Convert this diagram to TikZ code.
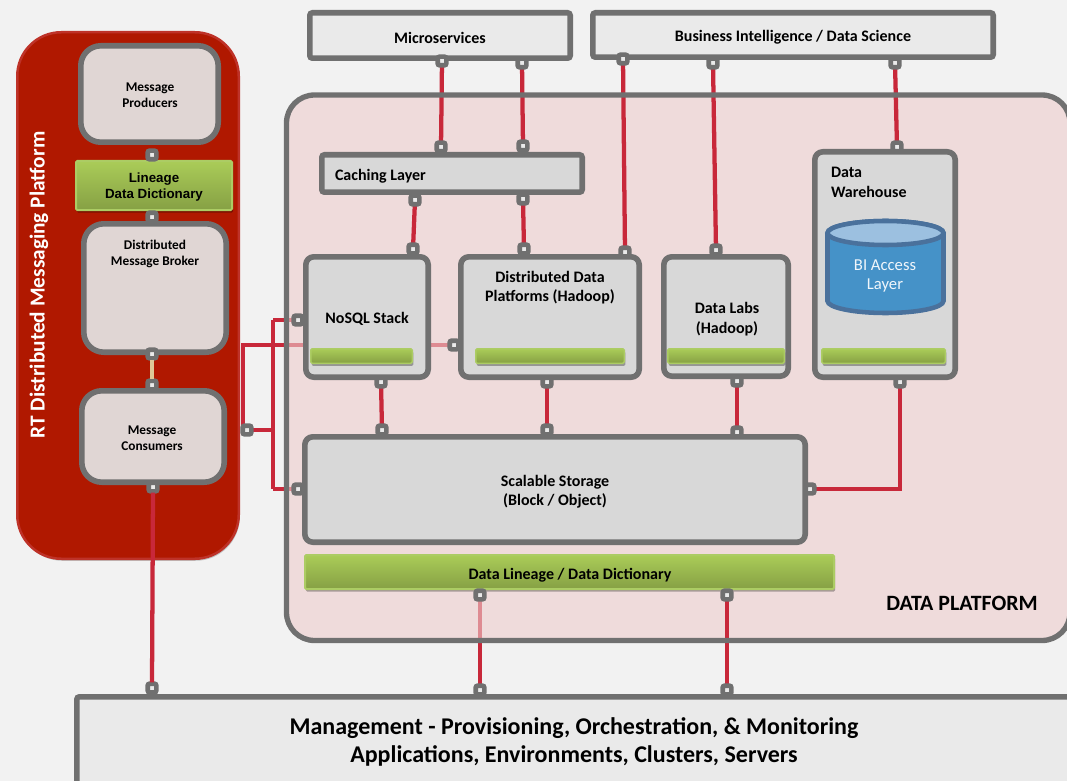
\documentclass[tikz,border=0pt]{standalone}
\usepackage{fontspec}
\setmainfont{Carlito}
\newfontfamily\arialf{Liberation Sans}
\usetikzlibrary{shadows,calc}
\pgfdeclarelayer{under}\pgfdeclarelayer{panel}\pgfdeclarelayer{over}
\pgfsetlayers{under,panel,over,main}
\definecolor{bg}{RGB}{242,242,242}
\definecolor{frame}{RGB}{112,112,112}
\definecolor{wire}{RGB}{200,40,58}
\definecolor{tanwire}{RGB}{222,200,150}
\definecolor{redpanel}{RGB}{176,24,0}
\definecolor{redrim}{RGB}{190,50,40}
\definecolor{paneltint}{RGB}{237,205,205}
\definecolor{boxgrey}{RGB}{216,216,216}
\definecolor{topgrey}{RGB}{234,234,234}
\definecolor{rosegrey}{RGB}{224,214,212}
\definecolor{greentop}{RGB}{170,204,88}
\definecolor{greenbot}{RGB}{134,160,68}
\definecolor{greenrim}{RGB}{172,204,100}
\definecolor{cylbody}{RGB}{69,146,200}
\definecolor{cyltop}{RGB}{156,192,224}
\definecolor{cylline}{RGB}{74,113,156}
\newcommand\bx[8]{%
  \pgfmathsetmacro\bxcx{(#2+#4)/2}\pgfmathsetmacro\bxcy{(#3+#5)/2}%
  \pgfmathsetmacro\bxw{(#4-#2-#6)*.75}\pgfmathsetmacro\bxh{(#5-#3-#6)*.75}%
  \node[#7,line width=#6*.75pt,minimum width=\bxw pt,minimum height=\bxh pt] (#1) at (\bxcx,\bxcy) {#8};}
\tikzset{
  every node/.style={inner sep=0pt,outer sep=0pt},
  lbl/.style={font=\bfseries\fontsize{10}{12}\selectfont,align=center,text=black},
  midlbl/.style={font=\bfseries\fontsize{12}{14.5}\selectfont,align=center,text=black},
  grey/.style={draw=frame,fill=boxgrey,rounded corners=6pt},
  topbox/.style={draw=frame,fill=topgrey,rounded corners=2pt},
  rose/.style={draw=frame,fill=rosegrey,rounded corners=15pt},
  greenbar/.style={draw=greenrim,top color=greentop,bottom color=greenbot,rounded corners=1pt,
     drop shadow={shadow xshift=.8pt,shadow yshift=-2pt,opacity=.3,fill=black}},
  port/.style={draw=frame,fill=topgrey,line width=3.5pt,minimum size=6.5pt,rounded corners=1.5pt},
  wireline/.style={draw=wire,line width=3.2pt},
}
\begin{document}
\begin{tikzpicture}[x=.75pt,y=-.75pt]
\useasboundingbox (0,0) rectangle (1067,781);
\begin{pgfonlayer}{under}
\fill[bg] (0,0) rectangle (1067,781);
\end{pgfonlayer}
% platform and big containers
\bx{rt}{16}{31}{240}{560}{2.5}{draw=redrim,fill=redpanel,rounded corners=33pt,drop shadow={shadow xshift=.8pt,shadow yshift=-1.5pt,opacity=.2,fill=black}}{}
\node[font=\bfseries\fontsize{16}{18}\selectfont,text=white,rotate=90] (rttext) at (39,285) {RT Distributed Messaging Platform};
\bx{prod}{78}{43}{221}{145}{5.6}{rose}{}
\node[lbl] (prodt) at (150,95) {Message\\Producers};
\bx{lineage}{75}{160}{233}{211}{2}{greenbar}{}
\node[font=\arialf\bfseries\fontsize{10}{11.5}\selectfont,align=center] (lineaget) at (154,187) {Lineage\\Data Dictionary};
\bx{broker}{81}{221}{229}{355}{5.6}{rose}{}
\node[lbl] (brokert) at (155,254) {Distributed\\Message Broker};
\bx{cons}{79}{388}{227}{485}{5.6}{rose}{}
\node[lbl] (const) at (152,438) {Message\\Consumers};
% top
\bx{micro}{307}{10}{573}{61}{5.6}{topbox}{}
\node[midlbl] (microt) at (440,38) {Microservices};
\bx{bi}{590}{10}{996}{60}{5.6}{topbox}{}
\node[midlbl] (bit) at (793,37) {Business Intelligence / Data Science};
% inside platform
\bx{cache}{319}{152}{585}{195}{5.6}{topbox,fill=boxgrey}{}
\node[midlbl,anchor=west] (cachet) at (335,176) {Caching Layer};
\bx{nosql}{303}{254}{431}{380}{5.6}{grey}{}
\node[midlbl] (nosqlt) at (367,319) {NoSQL Stack};
\bx{ddp}{458}{254}{642}{380}{5.6}{grey}{}
\node[midlbl] (ddpt) at (550,287.5) {Distributed Data\\Platforms (Hadoop)};
\bx{labs}{661}{254}{791}{379}{5.6}{grey}{}
\node[midlbl] (labst) at (727,319) {Data Labs\\(Hadoop)};
\bx{dw}{812}{149}{958}{380}{5.6}{grey}{}
\node[midlbl,align=left,anchor=west] (dwt) at (831,182.5) {Data\\Warehouse};
\bx{g1}{310}{348}{413}{364}{1.5}{greenbar}{}
\bx{g2}{475}{348}{625}{364}{1.5}{greenbar}{}
\bx{g3}{667}{348}{785}{364}{1.5}{greenbar}{}
\bx{g4}{821}{348}{946}{364}{1.5}{greenbar}{}
% cylinder
\filldraw[fill=cylbody,draw=cylline,line width=3.4pt] (827.5,233) -- (827.5,301) arc[start angle=180,end angle=360,x radius=58,y radius=-12] -- (943.5,233) arc[start angle=0,end angle=180,x radius=58,y radius=-12];
\filldraw[fill=cyltop,draw=cylline,line width=3.4pt] (885.5,233) ellipse[x radius=58,y radius=12];
\node[font=\fontsize{12.5}{14.5}\selectfont,text=white!92!cylbody,align=center] (bit2) at (885,276) {BI Access\\Layer};
\bx{store}{302}{434}{808}{545}{5.6}{grey}{}
\node[midlbl] (storet) at (555,492) {Scalable Storage\\(Block / Object)};
\bx{dl}{304}{554}{835}{590}{2}{greenbar}{}
\node[midlbl] (dlt) at (570,575) {Data Lineage / Data Dictionary};
\node[font=\bfseries\fontsize{16.4}{18}\selectfont] (plat) at (962,603) {DATA PLATFORM};
\bx{mgmt}{74}{694}{1090}{800}{5.6}{topbox}{}
\node[font=\bfseries\fontsize{18}{21}\selectfont,align=center] (mgmtt) at (574,742) {Management - Provisioning, Orchestration, \& Monitoring\\Applications, Environments, Clusters, Servers};
% ports
\foreach \n/\x/\y in {
 a1/152/155, a2/152/217, a3/152/354, a4/152/385, a5/153/487, a6/152/688,
 b1/442/61, b2/441/147, c1/522/63, c2/523/146,
 d1/623/59, d2/625/252, e1/713/63, e2/716/250, f1/895/63, f2/897/147,
 g5/415/200, g6/413/249, h1/523/199, h2/524/249,
 i1/381/382, i2/382/430, j1/547/382, j2/547/430, k1/737/381, k2/737/432,
 l1/900/382, l2/810/489, m0/247/430, m1/298/320, m2/298/489, m3/454/345,
 n1/480/595, n2/480/690, o1/727/595, o2/727/690}
 {\node[port] (\n) at (\x,\y) {};}
\coordinate (ja) at (273,430);
\coordinate (jb) at (243,345);
% wires
\draw[wireline,draw=tanwire,shorten >=1pt,shorten <=1pt] (a3.south) -- (a4.north);
\draw[wireline,shorten <=1pt,shorten >=1pt] (a5.south) -- (a6.north);
\begin{pgfonlayer}{under}
\draw[wireline] (m0 -| jb) -- (jb) -- (m3);
\draw[wireline] (ja |- m1) -- (m1);
\draw[wireline] (ja |- m2) -- (m2);
\draw[wireline] (n1) -- (n2);
\end{pgfonlayer}
\begin{pgfonlayer}{panel}
\path[fill=paneltint,fill opacity=.6,rounded corners=21pt] (286.5,95) rectangle (1070,640.5);
\end{pgfonlayer}
\begin{pgfonlayer}{over}
\draw[wireline] (b1) -- (b2);
\draw[wireline] (c1) -- (c2);
\draw[wireline] (d1) -- (d2);
\draw[wireline] (e1) -- (e2);
\draw[wireline] (f1) -- (f2);
\draw[wireline] (g5) -- (g6);
\draw[wireline] (h1) -- (h2);
\draw[wireline] (i1) -- (i2);
\draw[wireline] (j1) -- (j2);
\draw[wireline] (k1) -- (k2);
\draw[wireline] (l1) |- (l2);
\draw[wireline] (m0) -- (ja);
\draw[wireline] (ja |- m1) -- (ja |- m2);
\draw[wireline] (o1) -- (o2);
\draw[draw=frame,line width=4pt,rounded corners=21pt] (286.5,95) rectangle (1070,640.5);
\end{pgfonlayer}
\end{tikzpicture}
\end{document}
